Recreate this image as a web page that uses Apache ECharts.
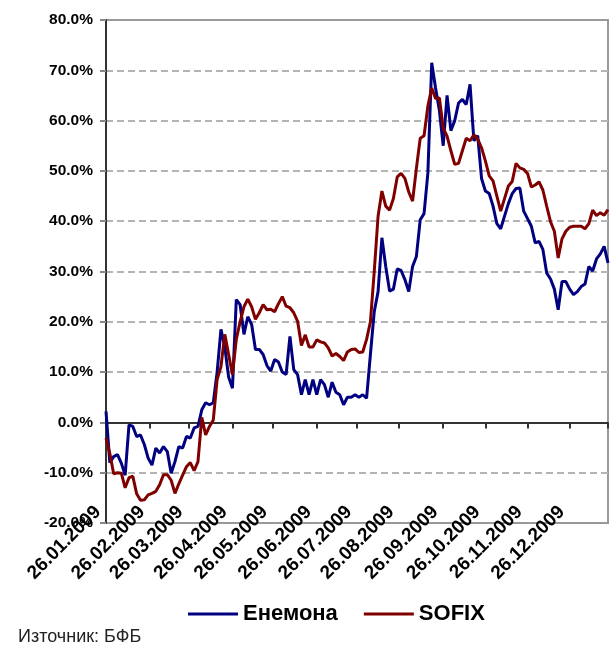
<!DOCTYPE html>
<html><head><meta charset="utf-8">
<script src="https://cdn.jsdelivr.net/npm/echarts@6/dist/echarts.min.js"></script>
<style>html,body{margin:0;padding:0;background:#fff}#c{width:616px;height:648px}</style>
</head><body><div id="c"></div>
<script>
// trading-day index of each sample = i * STEP
const STEP = 2;
const TOTAL_DAYS = 262;
const monthTickDays = [0, 23, 43, 66, 87, 110, 131, 153, 176, 198, 220, 242, 262];
const monthLabels = ['26.01.2009','26.02.2009','26.03.2009','26.04.2009','26.05.2009','26.06.2009',
  '26.07.2009','26.08.2009','26.09.2009','26.10.2009','26.11.2009','26.12.2009'];
const seriesNames = ['Енемона', 'SOFIX'];
const enemona = [2.2, -8.0, -6.8, -6.4, -8.1, -10.5, -0.5, -0.8, -2.8, -2.5,
  -4.4, -7.1, -8.5, -5.1, -6.1, -4.8, -5.8, -10.1, -7.8, -4.8,
  -5.1, -2.8, -3.1, -1.1, -0.8, 2.5, 3.9, 3.5, 3.9, 10,
  18.5, 15, 9, 6.8, 24.4, 23.4, 17.5, 21, 19.5, 14.5,
  14.5, 13.5, 11.3, 10.2, 12.5, 12, 10, 9.5, 17.1, 10.5,
  9.5, 5.5, 8.5, 5.5, 8.5, 5.5, 8.5, 7.5, 5, 8,
  6, 5.5, 3.5, 5, 5, 5.5, 5, 5.5, 4.8, 13.5,
  22, 26, 36.7, 31, 26.1, 26.5, 30.5, 30.2, 28.4, 26,
  31, 33, 40.3, 41.5, 49.6, 71.5, 66.5, 62, 55, 65,
  58, 60, 63.5, 64.2, 63.2, 67.2, 56, 57, 48.5, 46,
  45.5, 43, 39.5, 38.5, 41, 43.5, 45.5, 46.5, 46.6, 42,
  40.5, 39, 35.7, 36, 34.4, 29.7, 28.5, 26.5, 22.4, 28,
  28, 26.5, 25.4, 26, 27, 27.5, 31, 30.1, 32.5, 33.5,
  35, 31.7];
const sofix = [-3.1, -6.2, -10.2, -10, -10.1, -13, -11, -10.7, -14.2, -15.5,
  -15.4, -14.4, -14.1, -13.7, -12.4, -10.4, -10.4, -11.5, -14.1, -12.2,
  -10.5, -8.8, -8, -9.6, -7.8, 1.0, -2.5, -0.8, 0.5, 8.5,
  11.1, 17.5, 13.5, 9.5, 16.5, 20, 23, 24.5, 23, 20.5,
  21.8, 23.4, 22.4, 22.5, 22, 23.6, 25, 23.1, 22.8, 21.8,
  20.1, 15.3, 17.4, 15, 15, 16.4, 16, 15.8, 14.8, 13.2,
  13.7, 13.1, 12.3, 14, 14.5, 14.6, 13.9, 14, 16.5, 20,
  30, 41, 46, 43, 42.2, 44.5, 48.8, 49.5, 48.5, 45.8,
  44, 50.5, 56.5, 57, 62.9, 66.5, 64.4, 64.5, 58.5, 56.9,
  54, 51.3, 51.5, 54, 56.5, 56, 57.2, 56.3, 54.6, 52,
  49, 48, 45, 42, 44.5, 47, 47.9, 51.5, 50.6, 50.3,
  49.5, 46.8, 47.2, 47.8, 46.2, 43, 39.9, 38, 32.7, 36.5,
  38, 38.8, 39, 39, 39, 38.5, 39.5, 42.2, 41.1, 41.7,
  41.2, 42.3];
const yMin = -20, yMax = 80, yStep = 10;
const sourceNote = 'Източник: БФБ';

const FONT = 'Arial, "Liberation Sans", sans-serif';
const chart = echarts.init(document.getElementById('c'), null, {renderer: 'canvas'});
const toPairs = arr => arr.map((v, i) => [i * STEP, v]);

chart.setOption({
  animation: false,
  backgroundColor: '#fff',
  textStyle: {fontFamily: FONT},
  grid: [
    {left: 106, right: 8, top: 20, bottom: 125, show: true, borderColor: '#999', borderWidth: 2, backgroundColor: 'transparent'},
    {left: 98, right: 16, top: 20, bottom: 139, show: false}
  ],
  xAxis: [
    {gridIndex: 0, type: 'value', min: 0, max: TOTAL_DAYS,
     axisLine: {show: true, onZero: true, lineStyle: {color: '#333', width: 2}},
     axisTick: {show: true, customValues: monthTickDays, length: 6, lineStyle: {color: '#333', width: 2}},
     axisLabel: {show: false}, splitLine: {show: false}},
    {gridIndex: 1, type: 'value', min: 0, max: TOTAL_DAYS,
     axisLine: {show: false}, axisTick: {show: false}, splitLine: {show: false},
     axisLabel: {show: true, customValues: monthTickDays.slice(0, monthLabels.length), rotate: 45, margin: 0,
       formatter: v => monthLabels[monthTickDays.indexOf(v)] || '',
       fontSize: 19, fontWeight: 'bold', color: '#000', fontFamily: FONT}}
  ],
  yAxis: [
    {gridIndex: 0, type: 'value', min: yMin, max: yMax, interval: yStep,
     axisLine: {show: true, lineStyle: {color: '#333', width: 2}},
     axisTick: {show: true, length: 6, lineStyle: {color: '#888', width: 2}},
     axisLabel: {margin: 13, formatter: v => v.toFixed(1) + '%', fontSize: 15.5, fontWeight: 'bold', color: '#000', fontFamily: FONT},
     splitLine: {show: true, showMinLine: false, showMaxLine: false, lineStyle: {type: [7, 4], color: '#b4b4b4', width: 2}}},
    {gridIndex: 1, type: 'value', show: false, min: 0, max: 1}
  ],
  legend: {
    left: 188, top: 603, padding: 0, icon: 'rect', itemWidth: 50, itemHeight: 3, itemGap: 26,
    textStyle: {fontSize: 22, fontWeight: 'bold', color: '#000', fontFamily: FONT},
    data: seriesNames
  },
  series: [
    {name: seriesNames[0], type: 'line', xAxisIndex: 0, yAxisIndex: 0, data: toPairs(enemona), symbol: 'none',
     lineStyle: {color: '#000080', width: 3}, itemStyle: {color: '#000080'}},
    {name: seriesNames[1], type: 'line', xAxisIndex: 0, yAxisIndex: 0, data: toPairs(sofix), symbol: 'none',
     lineStyle: {color: '#800000', width: 3}, itemStyle: {color: '#800000'}}
  ],
  graphic: [
    {type: 'text', left: 18, top: 628, style: {text: sourceNote, font: '18px ' + FONT, fill: '#222'}}
  ]
});
</script></body></html>
